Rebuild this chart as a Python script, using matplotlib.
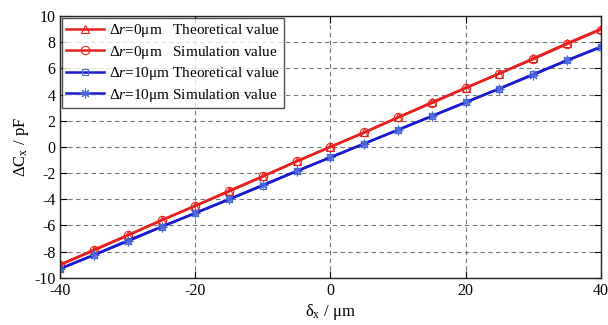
import numpy as np
import matplotlib.pyplot as plt

plt.rcParams['font.family'] = ['Liberation Serif', 'DejaVu Serif']
plt.rcParams['mathtext.fontset'] = 'custom'
plt.rcParams['mathtext.rm'] = 'Liberation Serif'
plt.rcParams['mathtext.it'] = 'Liberation Serif:italic'
plt.rcParams['axes.unicode_minus'] = False

# displacement (um)
dx = [-40, -35, -30, -25, -20, -15, -10, -5, 0, 5, 10, 15, 20, 25, 30, 35, 40]
# capacitance change (pF)
r0_theory = [-9.0, -7.9, -6.75, -5.6, -4.5, -3.4, -2.25, -1.1, 0.0,
             1.1, 2.25, 3.4, 4.5, 5.6, 6.75, 7.9, 9.0]
r0_sim = [-9.0, -7.85, -6.75, -5.6, -4.5, -3.35, -2.25, -1.1, 0.0,
          1.1, 2.25, 3.35, 4.5, 5.6, 6.7, 7.85, 8.95]
r10_theory = [-9.3, -8.25, -7.2, -6.1, -5.05, -4.0, -2.95, -1.85, -0.8,
              0.25, 1.3, 2.35, 3.4, 4.45, 5.55, 6.6, 7.65]
r10_sim = [-9.3, -8.25, -7.15, -6.1, -5.05, -4.0, -2.9, -1.85, -0.8,
           0.25, 1.3, 2.35, 3.4, 4.45, 5.5, 6.6, 7.6]

labels = [r'$\Delta r$=0μm   Theoretical value',
          r'$\Delta r$=0μm   Simulation value',
          r'$\Delta r$=10μm Theoretical value',
          r'$\Delta r$=10μm Simulation value']

red = '#e8201e'
blue = '#1a1ad0'

fig = plt.figure(figsize=(6.08, 3.25), dpi=100)
ax = fig.add_axes([0.099, 0.145, 0.889, 0.806])

ax.plot(dx, r0_theory, '-', color=red, lw=1.8, marker='^', ms=6,
        mfc='none', mec=red, mew=0.8, label=labels[0])
ax.plot(dx, r0_sim, '-', color=red, lw=1.8, marker='o', ms=6,
        mfc='none', mec=red, mew=0.8, label=labels[1])
ax.plot(dx, r10_theory, '-', color=blue, lw=1.8, marker='s', ms=5,
        mfc='none', mec='#4a6ad8', mew=0.8, label=labels[2])
ax.plot(dx, r10_sim, '-', color=blue, lw=1.8, marker=(8, 2, 0), ms=7,
        mfc='none', mec='#4a6ad8', mew=0.8, label=labels[3])

ax.set_xlim(-40, 40)
ax.set_ylim(-10, 10)
ax.set_xticks([-40, -20, 0, 20, 40])
ax.set_yticks(np.arange(-10, 11, 2))
ax.grid(True, ls=(0, (4, 3)), color='#777777', lw=0.8)
ax.tick_params(direction='in', top=True, right=True, labelsize=11.5, length=5)
for s in ax.spines.values():
    s.set_linewidth(1.0)
    s.set_color('#222222')

ax.set_xlabel(r'δ$_\mathrm{x}$ / μm', fontsize=12, labelpad=2)
ax.set_ylabel(r'ΔC$_\mathrm{x}$ / pF', fontsize=12, labelpad=2)

leg = ax.legend(loc='upper left', fontsize=11, frameon=True, fancybox=False,
                edgecolor='#222222', borderpad=0.25, labelspacing=0.3,
                handlelength=2.5, handletextpad=0.3, borderaxespad=0.15)
leg.get_frame().set_linewidth(1.0)

fig.savefig('out.png', dpi=100)
